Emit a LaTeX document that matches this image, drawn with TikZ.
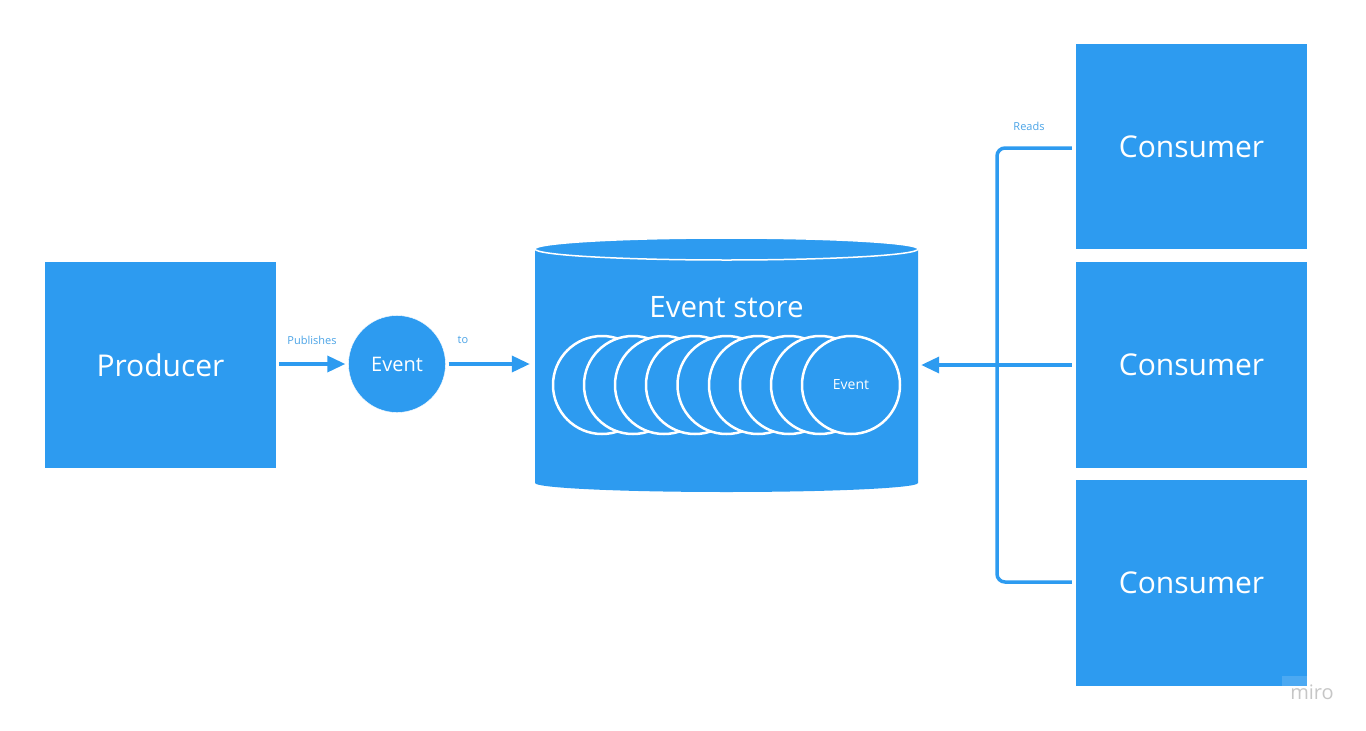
\documentclass[tikz,border=0pt]{standalone}
\usepackage{fontspec}
\setmainfont{Open Sans}
\usetikzlibrary{arrows.meta}
\definecolor{evblue}{HTML}{2D9BF0}
\definecolor{lblblue}{HTML}{4AA3E6}
\begin{document}
\begin{tikzpicture}[x=1pt,y=-1pt,
	box/.style = {rectangle, fill = evblue, text = white, minimum width = 231pt, inner sep = 0pt, font = \fontsize{30}{35}\selectfont},
	evcirc/.style = {circle, draw = white, line width = 2.5pt, fill = evblue, text = white, minimum size = 98pt, inner sep = 0pt, font = \fontsize{14}{17}\selectfont},
	lbl/.style = {text = lblblue, font = \fontsize{11}{13}\selectfont},
	link/.style = {draw = evblue, line width = 3.5pt},
	arrow/.style = {link, -{Triangle[length=18pt, width=16pt]}}]
	\useasboundingbox (0,0) rectangle (1366,731);
	\node (P) at (160.5, 365)	[box, minimum height = 206pt]	{Producer};
	\node (E) at (397, 364)	[circle, draw = white, fill = evblue, text = white, minimum size = 97pt, inner sep = 0pt, font = \fontsize{20}{24}\selectfont]	{Event};
	\node (C1) at (1191.5, 146.5)	[box, minimum height = 205pt]	{Consumer};
	\node (C2) at (1191.5, 365)	[box, minimum height = 206pt]	{Consumer};
	\node (C3) at (1191.5, 583)	[box, minimum height = 206pt]	{Consumer};
	% event store cylinder
	\fill[evblue] (535,249) -- (535,483) arc[start angle=180, end angle=0, x radius=191.5, y radius=9] -- (918,249) -- cycle;
	\draw[white, line width=1.5pt, fill=evblue] (726.5,249) ellipse[x radius=191.5, y radius=11];
	\node (S) at (726.5, 366)	[minimum width = 383pt, minimum height = 230pt, inner sep = 0pt]	{};
	\node (ST) at (726.5, 307)	[text = white, font = \fontsize{29.5}{35}\selectfont]	{Event store};
	\node (e1) at (602, 385)	[evcirc]	{};
	\node (e2) at (633, 385)	[evcirc]	{};
	\node (e3) at (664, 385)	[evcirc]	{};
	\node (e4) at (695, 385)	[evcirc]	{};
	\node (e5) at (726.5, 385)	[evcirc]	{};
	\node (e6) at (758, 385)	[evcirc]	{};
	\node (e7) at (789, 385)	[evcirc]	{};
	\node (e8) at (820, 385)	[evcirc]	{};
	\node (e9) at (851, 385)	[evcirc]	{Event};
	% connectors
	\coordinate (J) at (997, 365);
	\draw[arrow, shorten <=3pt, shorten >=3pt] (P.east |- E) -- (E);
	\draw[arrow, shorten <=3pt, shorten >=5pt] (E) -- (E -| S.west);
	\draw[link, rounded corners=8pt] ([xshift=-4pt]C1.west |- 0,148) -| (J) |- ([xshift=-4pt]C3.west |- 0,582);
	\draw[link] ([xshift=-4pt]C2.west) -- (J);
	\draw[arrow, shorten >=3pt] (J) -- (J -| S.east);
	\node (L1) at (312, 340)	[lbl]	{Publishes};
	\node (L2) at (463, 340)	[lbl]	{to};
	\node (L3) at (1029, 126)	[lbl]	{Reads};
	% watermark
	\fill[white, opacity=0.15] (1282,676) rectangle (1307,686);
	\node (W) at (1312, 692)	[text = gray!45, font = \fontsize{20}{24}\selectfont]	{miro};
\end{tikzpicture}
\end{document}
